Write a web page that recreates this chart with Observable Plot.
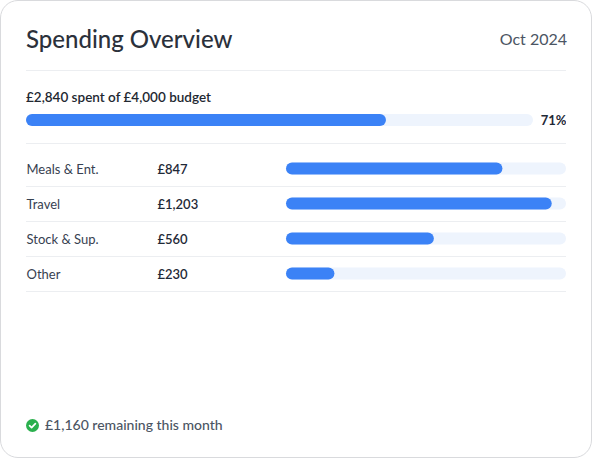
<!DOCTYPE html>
<html>
<head>
<meta charset="utf-8">
<script src="https://cdn.jsdelivr.net/npm/d3@7"></script>
<script src="https://cdn.jsdelivr.net/npm/@observablehq/plot@0.6"></script>
<style>
  html, body { margin: 0; padding: 0; background: #ffffff; }
  body { width: 592px; height: 458px; position: relative; font-family: Lato, "Noto Sans", sans-serif; }
  .card { position: absolute; left: 0; top: 0; width: 590px; height: 456px; border: 1px solid #d9dadd; border-radius: 18px; background: #fff; }
  .abs { position: absolute; white-space: nowrap; }
  .title { left: 26px; top: 24px; font-size: 24px; font-weight: 500; color: #2b313b; line-height: 30px; }
  .period { right: 25px; top: 29px; font-size: 16px; color: #4b5563; line-height: 20px; }
  .divider { left: 26px; width: 540px; height: 1px; background: #eceef1; }
  .budget-label { left: 26px; top: 88px; font-size: 13.5px; font-weight: 600; color: #222831; line-height: 18px; }
  #budget { left: 26px; top: 108px; }
  #rows { left: 26px; top: 151px; }
  .footer { left: 26px; top: 416px; font-size: 14px; font-weight: 500; color: #4b5563; line-height: 18px; display: flex; align-items: center; gap: 6px; }
</style>
</head>
<body>
<div class="card"></div>
<div class="abs title" id="title"></div>
<div class="abs period" id="period"></div>
<div class="abs divider" style="top:70px"></div>
<div class="abs budget-label" id="budgetLabel"></div>
<div class="abs" id="budget"></div>
<div class="abs divider" style="top:143px"></div>
<div class="abs" id="rows"></div>
<div class="abs footer" id="footer"></div>
<script>
// ---- data ----
const titleText = "Spending Overview";
const periodText = "Oct 2024";
const spent = 2840;
const budget = 4000;
const categories = ["Meals & Ent.", "Travel", "Stock & Sup.", "Other"];
const amounts = [847, 1203, 560, 230];
// share of each category's track that is filled (%)
const fillPct = [77.3, 94.9, 52.8, 17.3];

const fmt = d3.format(",");
const rows = categories.map((cat, i) => ({cat, amount: amounts[i], pct: fillPct[i]}));
const FONT = "Lato, 'Noto Sans', sans-serif";
const BLUE = "#3b82f6";
const TRACK = "#eef4fd";

document.getElementById("title").textContent = titleText;
document.getElementById("period").textContent = periodText;
document.getElementById("budgetLabel").textContent = `£${fmt(spent)} spent of £${fmt(budget)} budget`;

// ---- budget progress ----
const budgetPlot = Plot.plot({
  width: 540, height: 24,
  marginTop: 0, marginBottom: 0, marginLeft: 0, marginRight: 0,
  style: {fontFamily: FONT, background: "transparent"},
  x: {domain: [0, budget], range: [0, 507], axis: null},
  marks: [
    Plot.barX([budget], {x: d => d, fill: TRACK, rx: 6, insetTop: 6, insetBottom: 6}),
    Plot.barX([spent], {x: d => d, fill: BLUE, rx: 6, insetTop: 6, insetBottom: 6}),
    Plot.text([Math.round(spent / budget * 100)], {
      frameAnchor: "right", textAnchor: "end", text: d => `${d}%`,
      fontSize: 13, fontWeight: 700, fill: "#1f2937"
    })
  ]
});
document.getElementById("budget").appendChild(budgetPlot);

// ---- category rows ----
const rowsPlot = Plot.plot({
  width: 540, height: 142,
  marginTop: 0, marginBottom: 2, marginLeft: 0, marginRight: 0,
  style: {fontFamily: FONT, background: "transparent"},
  x: {domain: [0, 100], range: [260, 540], axis: null},
  y: {domain: categories, padding: 0, axis: null},
  marks: [
    Plot.ruleY(rows, {y: "cat", dy: 17.5, stroke: "#eceef1", strokeWidth: 1}),
    Plot.barX(rows, {y: "cat", x: () => 100, fill: TRACK, rx: 6, insetTop: 11.5, insetBottom: 11.5}),
    Plot.barX(rows, {y: "cat", x: "pct", fill: BLUE, rx: 6, insetTop: 11.5, insetBottom: 11.5}),
    Plot.text(rows, {y: "cat", text: "cat", frameAnchor: "left", textAnchor: "start",
      dy: 1, fontSize: 13, fill: "#374151"}),
    Plot.text(rows, {y: "cat", text: d => `£${fmt(d.amount)}`, frameAnchor: "left", textAnchor: "start",
      dx: 131, dy: 1, fontSize: 13, fontWeight: 600, fill: "#1f2937"})
  ]
});
document.getElementById("rows").appendChild(rowsPlot);

// ---- footer ----
const footer = document.getElementById("footer");
footer.innerHTML = `<svg width="13" height="13" viewBox="0 0 13 13"><circle cx="6.5" cy="6.5" r="6.5" fill="#2bb04e"/><path d="M3.6 6.7 L5.6 8.6 L9.4 4.6" fill="none" stroke="#fff" stroke-width="1.7" stroke-linecap="round" stroke-linejoin="round"/></svg><span>£${fmt(budget - spent)} remaining this month</span>`;
</script>
</body>
</html>
